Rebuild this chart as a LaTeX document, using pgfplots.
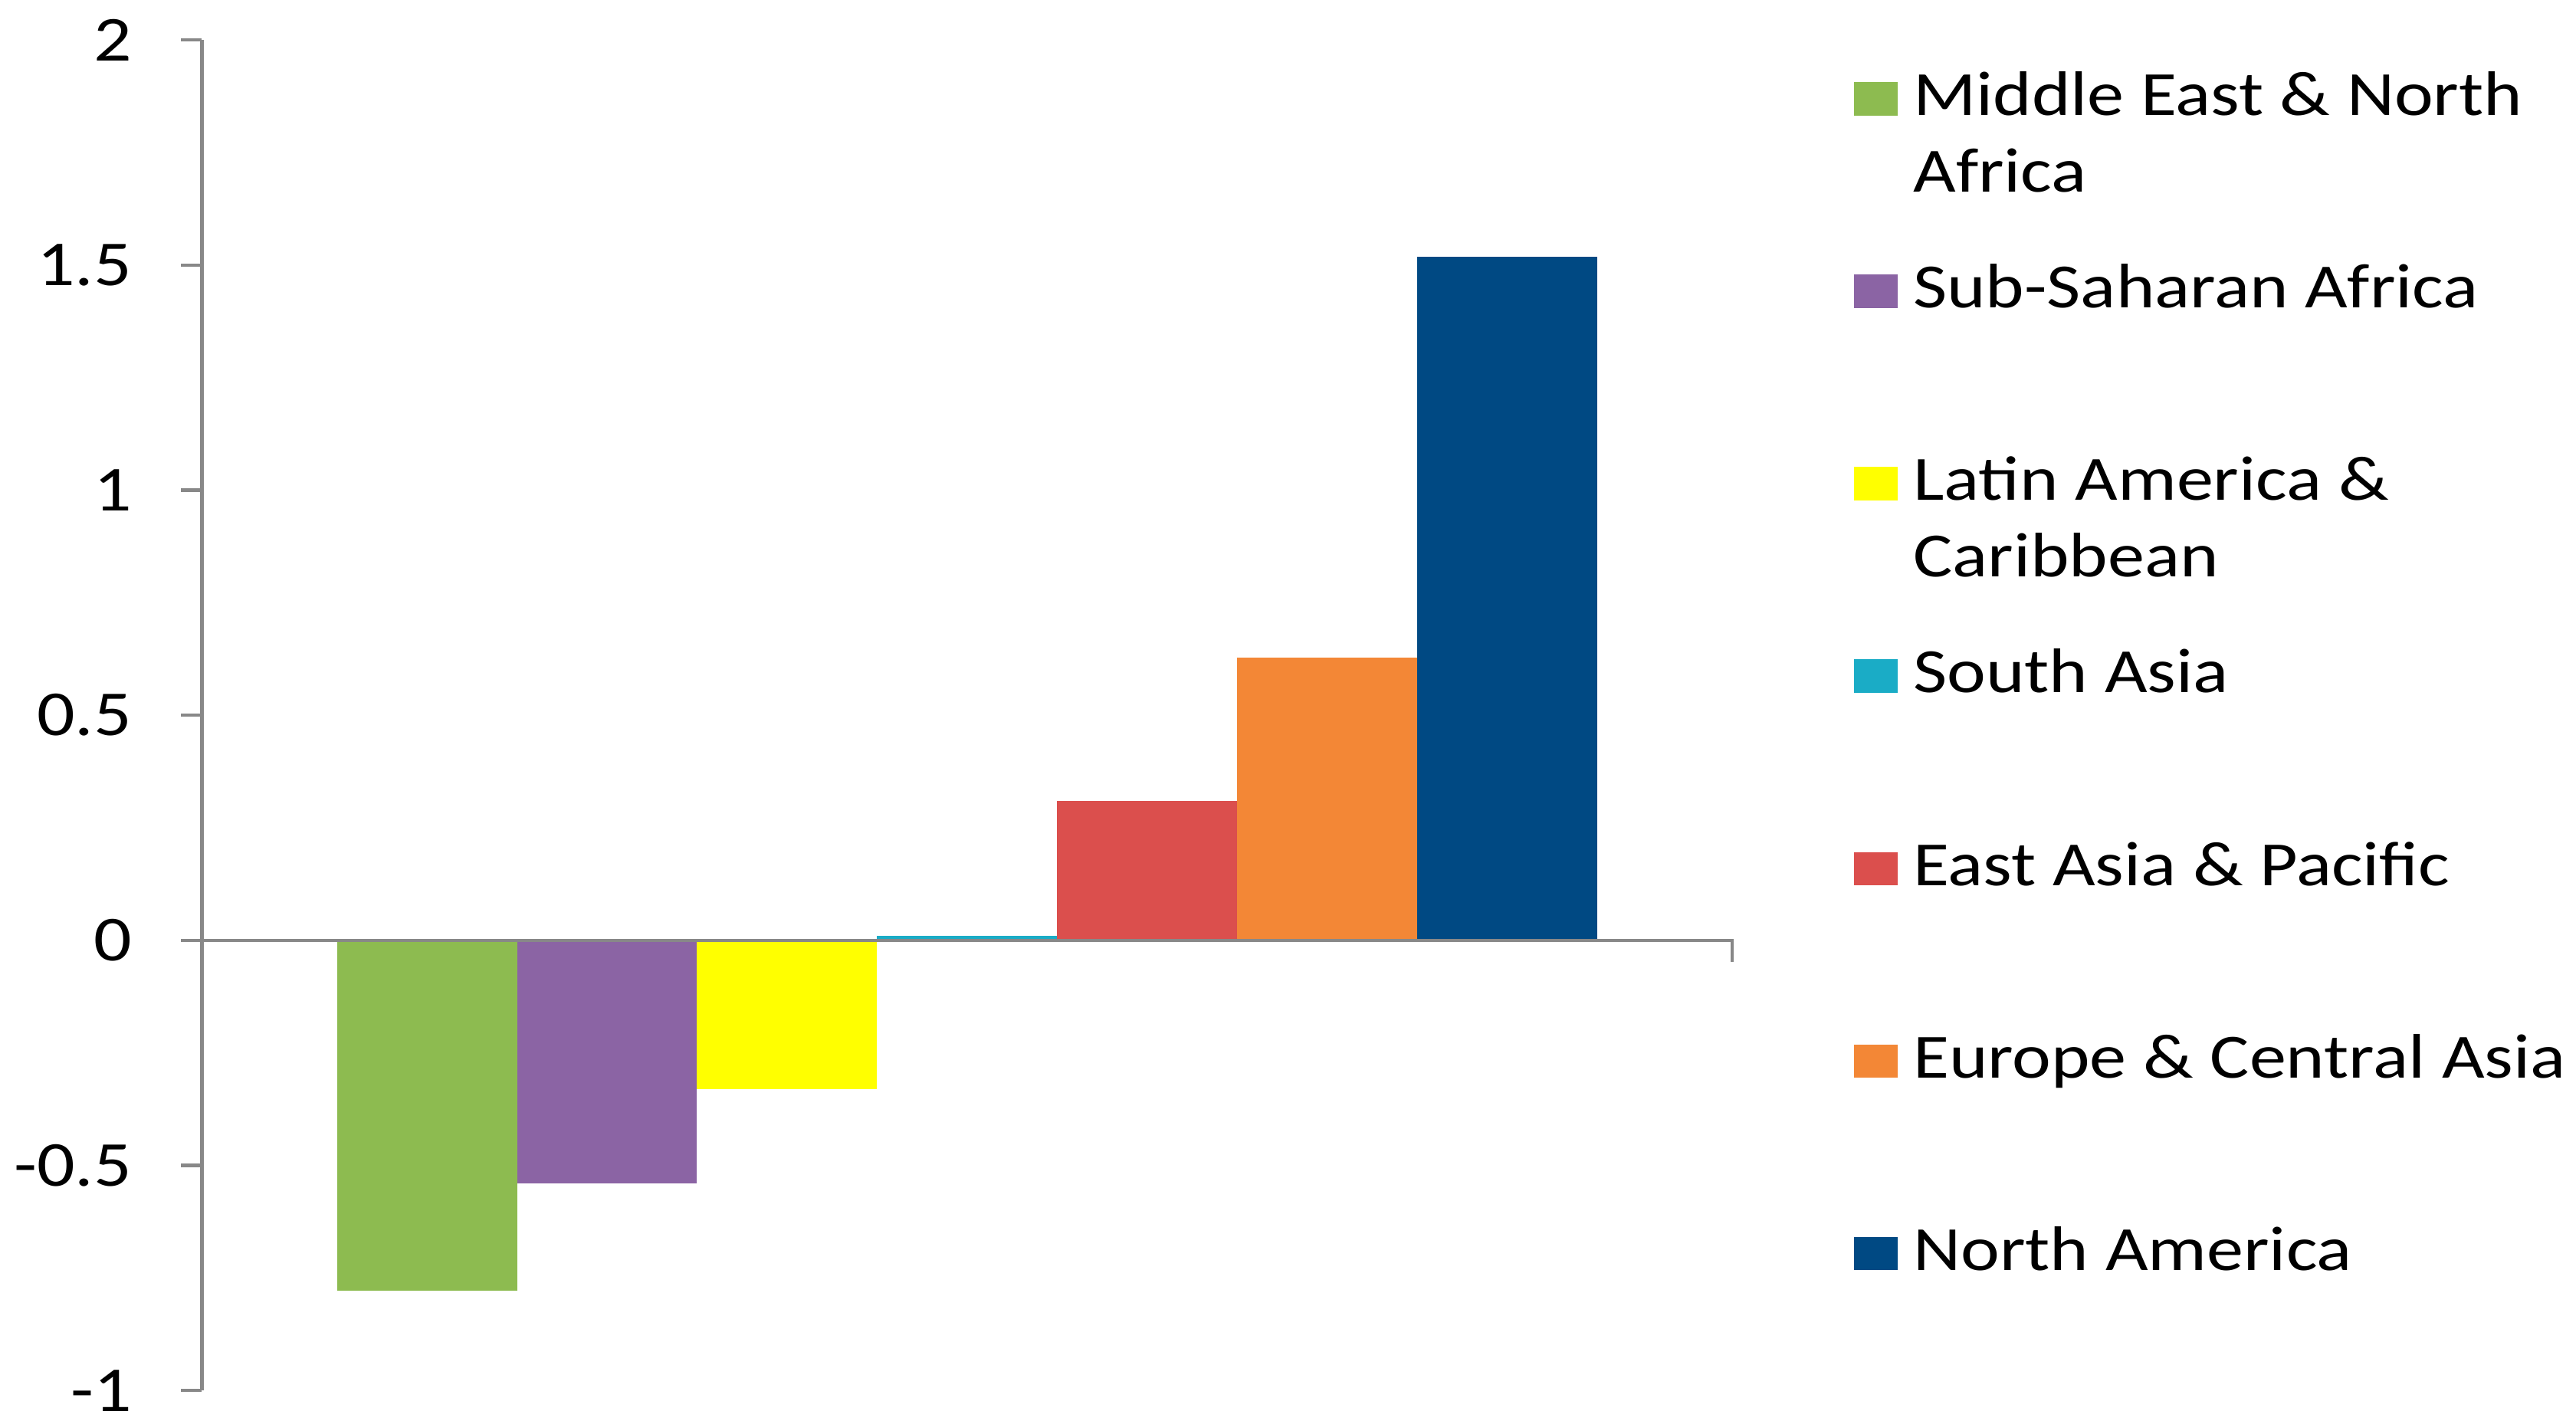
\documentclass[border=0pt]{standalone}
\usepackage{fontspec}
\setmainfont{Carlito}[FakeStretch=1.17]
\usepackage{pgfplots}
\pgfplotsset{compat=1.18}
\definecolor{cME}{HTML}{8DBB50}
\definecolor{cSS}{HTML}{8B64A4}
\definecolor{cLA}{HTML}{FFFF00}
\definecolor{cSA}{HTML}{1AACC6}
\definecolor{cEA}{HTML}{DB4F4D}
\definecolor{cEU}{HTML}{F38736}
\definecolor{cNA}{HTML}{004983}
\definecolor{axgray}{HTML}{888888}
\newcommand{\LEone}[1]{\vtop to 35.15pt{\hbox{\rule{0pt}{9pt}#1}\vss}}
\newcommand{\LEtwo}[2]{\vtop to 35.15pt{\hbox{\rule{0pt}{9pt}#1}\hbox{#2}\vss}}
\begin{document}
\begin{tikzpicture}
\useasboundingbox (0,0) rectangle (470.4pt,259.48pt);
\begin{axis}[
  at={(36.87pt,5.55pt)}, anchor=south west,
  scale only axis, width=279.45pt, height=246.65pt,
  xmin=-1.25, xmax=7.25, ymin=-1, ymax=2,
  axis x line=none, axis y line=left,
  axis line style={-, draw=axgray, line width=0.6pt},
  ytick={-1,-0.5,0,0.5,1,1.5,2},
  yticklabels={-1,-0.5,0,0.5,1,1.5,2},
  tick align=inside, major tick length=-3.9pt,
  major tick style={draw=axgray, line width=0.6pt},
  yticklabel style={anchor=east, inner sep=0pt, xshift=-12.57pt, font=\fontsize{11.7}{14}\selectfont, text=black},
  ybar, bar width=1,
  legend image code/.code={\fill[#1,draw=none] (0pt,0pt) rectangle (7.9pt,6.1pt);},
  legend style={at={(1.0790,0.9814)}, anchor=north west, draw=none, fill=none,
    inner sep=0pt, row sep=0pt, column sep=2.9pt,
    nodes={inner sep=0pt, text depth=, text height=},
    cells={anchor=base west},
    font=\fontsize{11.5}{14}\selectfont},
  clip=false,
]
\addplot[fill=cME, draw=none, bar shift=0pt] coordinates {(0,-0.778)};
\addlegendentry{\LEtwo{Middle East \& North}{Africa}}
\addplot[fill=cSS, draw=none, bar shift=0pt] coordinates {(1,-0.540)};
\addlegendentry{\LEone{Sub-Saharan Africa}}
\addplot[fill=cLA, draw=none, bar shift=0pt] coordinates {(2,-0.331)};
\addlegendentry{\LEtwo{Latin America \&}{Caribbean}}
\addplot[fill=cSA, draw=none, bar shift=0pt] coordinates {(3,0.010)};
\addlegendentry{\LEone{South Asia}}
\addplot[fill=cEA, draw=none, bar shift=0pt] coordinates {(4,0.309)};
\addlegendentry{\LEone{East Asia \& Pacific}}
\addplot[fill=cEU, draw=none, bar shift=0pt] coordinates {(5,0.628)};
\addlegendentry{\LEone{Europe \& Central Asia}}
\addplot[fill=cNA, draw=none, bar shift=0pt] coordinates {(6,1.518)};
\addlegendentry{\LEone{North America}}
\draw[draw=axgray, line width=0.6pt] (axis cs:-1.25,0) -- (axis cs:7.25,0) -- ++(0pt,-3.9pt);
\end{axis}
\end{tikzpicture}
\end{document}
